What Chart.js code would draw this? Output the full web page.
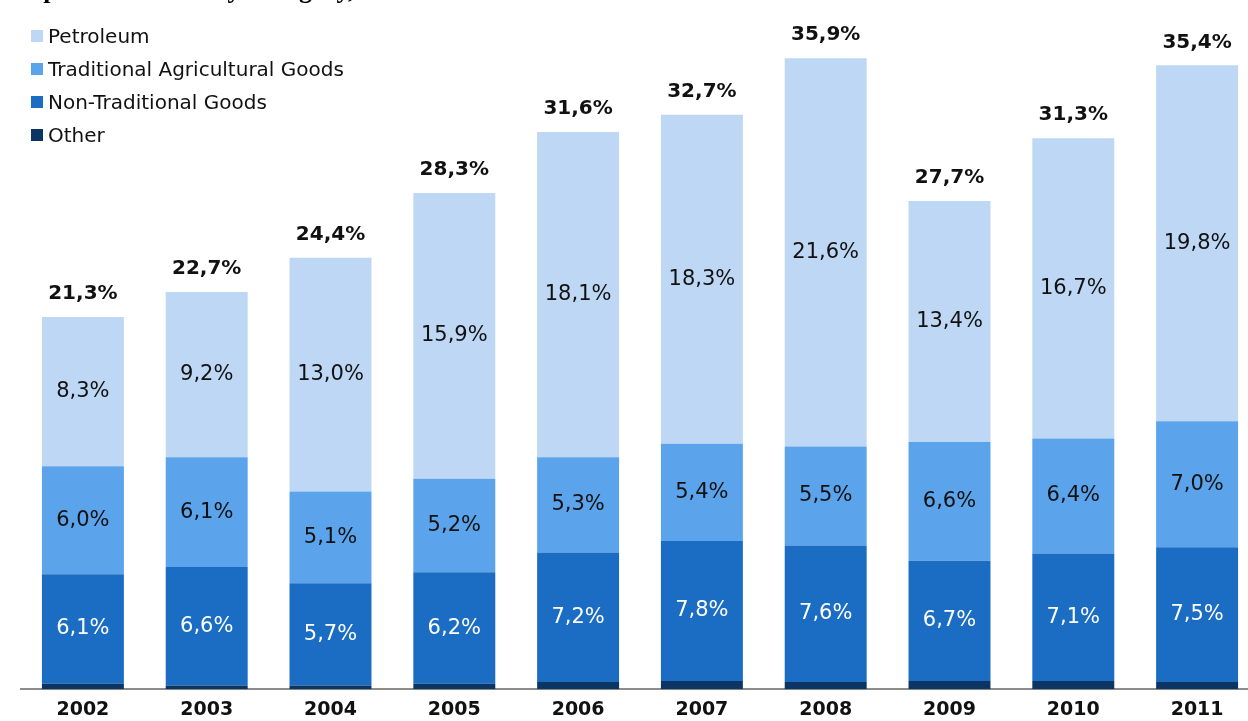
<!DOCTYPE html>
<html lang="en">
<head>
  <meta charset="UTF-8">
  <title>Exports of Goods by Category</title>
  <script src="https://cdn.jsdelivr.net/npm/chart.js"></script>
  <style>
    html, body {
      margin: 0;
      padding: 0;
      background: #fff;
      overflow: hidden;
    }
    #wrap {
      position: relative;
      width: 1262px;
      height: 725px;
    }
    #title {
      position: absolute;
      left: 13px;
      top: -25px;
      font: bold 26px "Liberation Serif", serif;
      color: #000;
      white-space: nowrap;
    }
    #legend {
      position: absolute;
      left: 31px;
      top: 24px;
      font: 20px "DejaVu Sans", sans-serif;
      color: #111;
    }
    #legend div {
      height: 33px;
      line-height: 24px;
      display: flex;
      align-items: flex-start;
    }
    #legend span.box {
      width: 12px;
      height: 12px;
      margin: 6px 5px 0 0;
      display: inline-block;
    }
  </style>
</head>
<body>
  <div id="wrap">
    <canvas id="exportsChart" width="1262" height="725"></canvas>
    <div id="title">Exports of Goods by Category, in Percent of GDP</div>
    <div id="legend"></div>
  </div>

  <script>
    // data (percent of GDP)
    const years = ['2002', '2003', '2004', '2005', '2006', '2007', '2008', '2009', '2010', '2011'];
    const petroleum = [8.3, 9.2, 13.0, 15.9, 18.1, 18.3, 21.6, 13.4, 16.7, 19.8];
    const traditional = [6.0, 6.1, 5.1, 5.2, 5.3, 5.4, 5.5, 6.6, 6.4, 7.0];
    const nonTraditional = [6.1, 6.6, 5.7, 6.2, 7.2, 7.8, 7.6, 6.7, 7.1, 7.5];
    const other = [0.3, 0.2, 0.2, 0.3, 0.4, 0.45, 0.4, 0.45, 0.45, 0.4];
    const totals = [21.3, 22.7, 24.4, 28.3, 31.6, 32.7, 35.9, 27.7, 31.3, 35.4];

    function pct(v) {
      return v.toFixed(1).replace('.', ',') + '%';
    }

    // value labels inside the segments plus the bold totals on top
    const labelPlugin = {
      id: 'segmentLabels',
      afterDatasetsDraw(chart) {
        const ctx = chart.ctx;
        ctx.save();
        ctx.textAlign = 'center';
        ctx.textBaseline = 'middle';
        chart.data.datasets.forEach((ds, i) => {
          if (!ds.showLabel) return;
          const meta = chart.getDatasetMeta(i);
          meta.data.forEach((bar, j) => {
            const mid = (bar.y + bar.base) / 2;
            ctx.font = '21px "DejaVu Sans", sans-serif';
            ctx.fillStyle = ds.labelColor;
            ctx.fillText(pct(ds.data[j]), bar.x, mid);
          });
        });
        // totals above the top segment
        const topMeta = chart.getDatasetMeta(chart.data.datasets.length - 1);
        topMeta.data.forEach((bar, j) => {
          ctx.font = 'bold 20px "DejaVu Sans", sans-serif';
          ctx.fillStyle = '#111';
          ctx.fillText(pct(totals[j]), bar.x, bar.y - 23);
        });
        ctx.restore();
      }
    };

    const ctx = document.getElementById('exportsChart').getContext('2d');
    const exportsChart = new Chart(ctx, {
      type: 'bar',
      data: {
        labels: years,
        datasets: [
          { label: 'Other', data: other, backgroundColor: '#0D3563', showLabel: false },
          { label: 'Non-Traditional Goods', data: nonTraditional, backgroundColor: '#1A6DC3', showLabel: true, labelColor: '#fff' },
          { label: 'Traditional Agricultural Goods', data: traditional, backgroundColor: '#5BA3EA', showLabel: true, labelColor: '#111' },
          { label: 'Petroleum', data: petroleum, backgroundColor: '#BDD7F4', showLabel: true, labelColor: '#111' }
        ]
      },
      options: {
        responsive: false,
        animation: false,
        layout: {
          padding: { left: 21, right: 3, top: 42, bottom: 3 }
        },
        datasets: {
          bar: {
            categoryPercentage: 1.0,
            barPercentage: 0.662,
            borderWidth: 0
          }
        },
        plugins: {
          legend: { display: false },
          title: { display: false },
          tooltip: { enabled: false }
        },
        scales: {
          x: {
            stacked: true,
            grid: { display: false },
            border: { display: true, color: '#8c8c8c', width: 2 },
            ticks: {
              color: '#111',
              padding: 1,
              font: { family: '"DejaVu Sans", sans-serif', size: 19, weight: 'bold' }
            }
          },
          y: {
            stacked: true,
            display: false,
            min: 0,
            max: 36
          }
        }
      },
      plugins: [labelPlugin]
    });

    // legend list, top item is the top of the stack
    const legendEl = document.getElementById('legend');
    exportsChart.data.datasets.slice().reverse().forEach(ds => {
      const row = document.createElement('div');
      row.innerHTML = '<span class="box" style="background:' + ds.backgroundColor + '"></span>' + ds.label;
      legendEl.appendChild(row);
    });
  </script>
</body>
</html>
